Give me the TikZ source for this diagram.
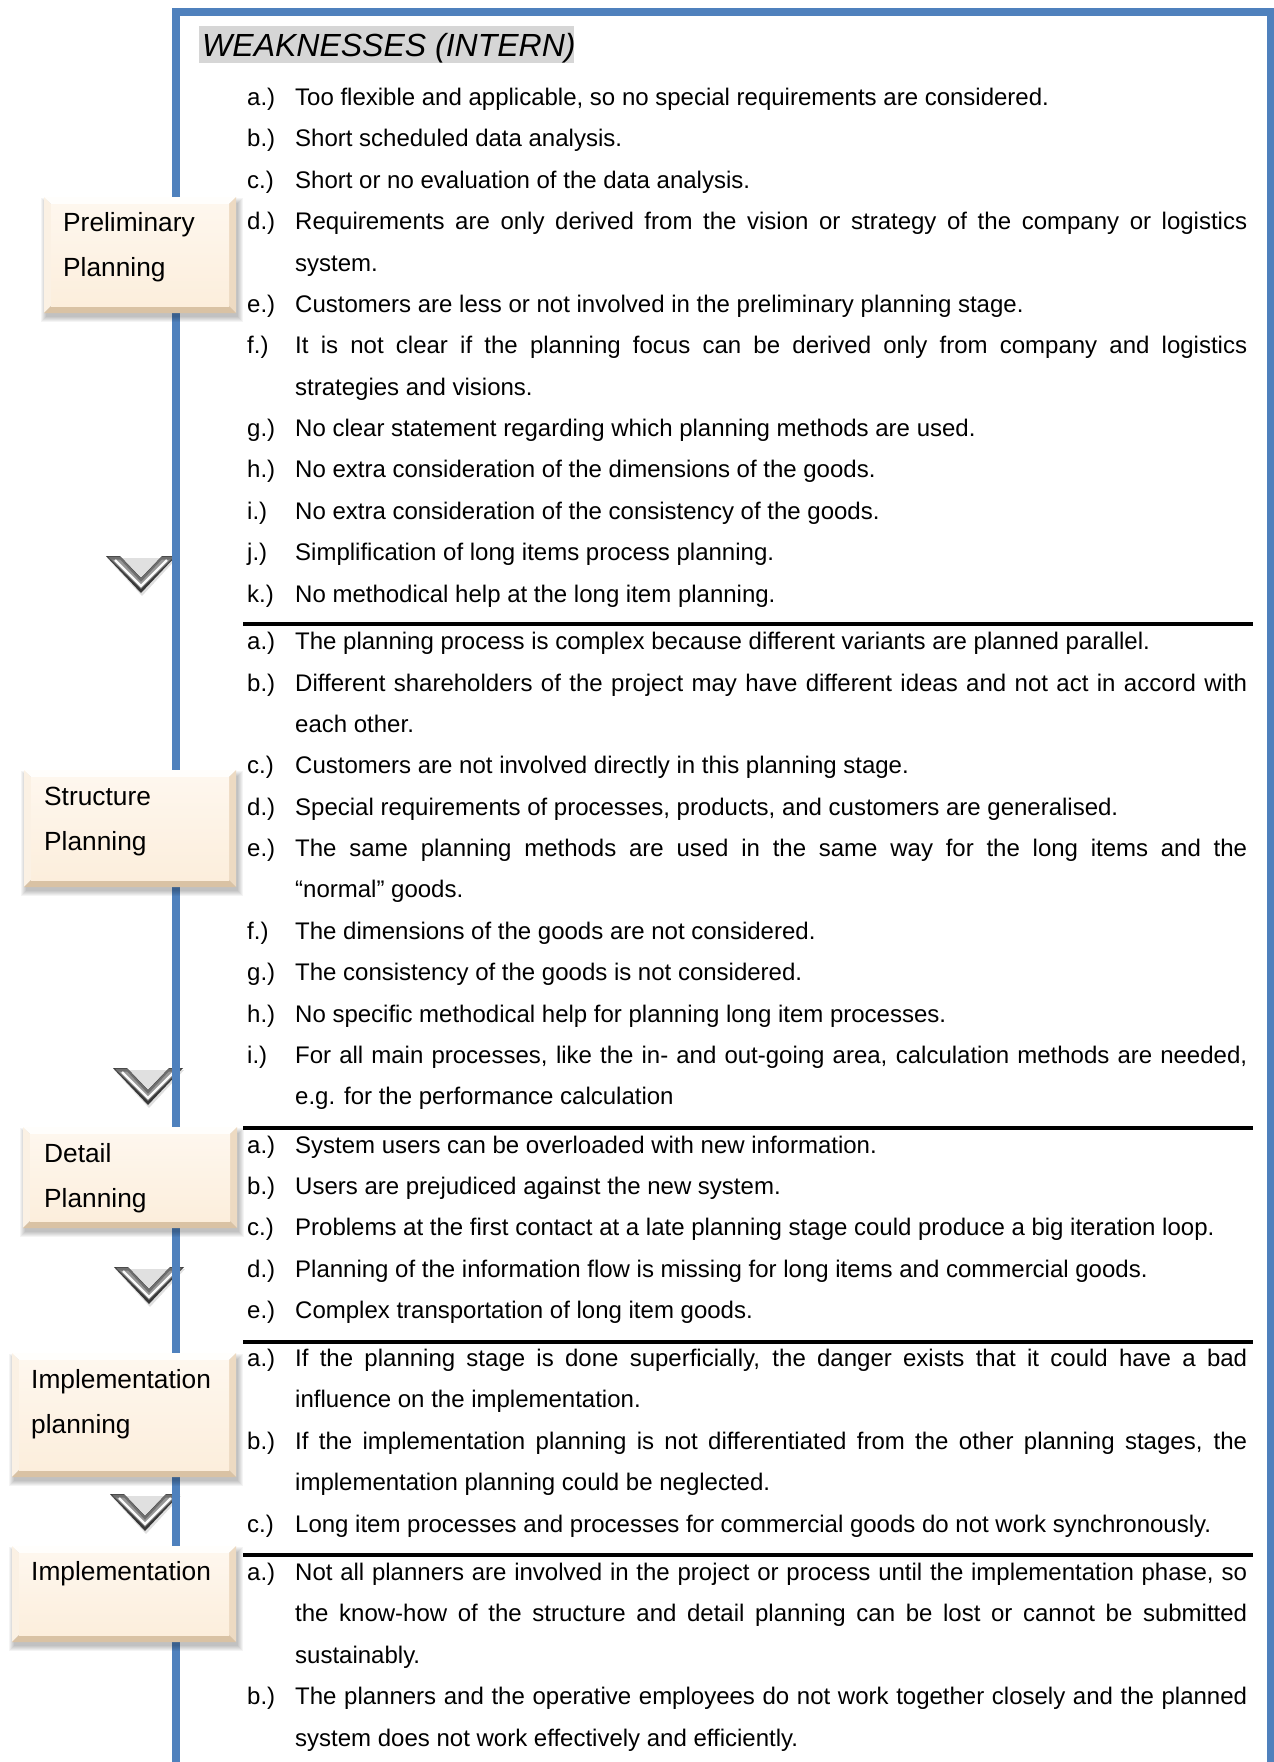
\documentclass[tikz,border=0pt]{standalone}
\usepackage{fontspec}
\setmainfont{Liberation Sans}
\usetikzlibrary{calc}

\definecolor{frameblue}{HTML}{4F81BD}
\definecolor{titlegray}{HTML}{D6D6D6}
\definecolor{creamtop}{HTML}{FEF7EE}
\definecolor{creambot}{HTML}{FCEEDC}
\definecolor{bevlight}{HTML}{FFFEFC}
\definecolor{bevleft}{HTML}{FBF1E4}
\definecolor{bevright}{HTML}{EDDAC2}
\definecolor{bevbottom}{HTML}{D9C2A4}
\definecolor{chevdark}{HTML}{383838}
\definecolor{chevband}{HTML}{6E6E6E}
\definecolor{chevmid}{HTML}{979797}

\newcommand{\bodyfont}{\fontsize{24}{28}\selectfont}
\newcommand{\stagefont}{\fontsize{26.3}{30}\selectfont}
\newcommand{\titlefont}{\fontsize{32}{36}\selectfont\itshape}
% justified line spanning the full text column
\newcommand{\J}[1]{\makebox[952pt][s]{#1}}

\tikzset{
  frameline/.style={draw=frameblue, line width=7.5pt, line join=miter},
  sepline/.style={draw=black, line width=4pt},
  lbl/.style={anchor=base west, inner sep=0pt, font=\bodyfont},
  txt/.style={anchor=base west, inner sep=0pt, font=\bodyfont},
  stagetxt/.style={anchor=base west, inner sep=0pt, font=\stagefont},
  titletxt/.style={anchor=base west, inner sep=0pt, font=\titlefont},
  chevhi/.style={draw=white, line width=2.2pt, opacity=0.95, line join=miter},
}

% item line with label / continuation line
\newcommand{\itm}[4]{%
  \node[lbl] (#1l) at (247,#2) {#3};
  \node[txt] (#1) at (295,#2) {#4};}
\newcommand{\cont}[3]{%
  \node[txt] (#1) at (295,#2) {#3};}

% bevelled stage box with soft shadow: x1 y1 x2 y2
\newcommand{\bevelbox}[4]{%
  \foreach \i in {0,...,5}{%
    \fill[black,opacity=0.045] ({#1+2-\i},{#2+6-\i}) rectangle ({#3+2+\i},{#4+4+\i});}
  \fill[bevlight] (#1,#2) -- (#3,#2) -- ({#3-7},{#2+7}) -- ({#1+7},{#2+7}) -- cycle;
  \fill[bevleft] (#1,#2) -- ({#1+7},{#2+7}) -- ({#1+7},{#4-7}) -- (#1,#4) -- cycle;
  \fill[bevright] (#3,#2) -- (#3,#4) -- ({#3-7},{#4-7}) -- ({#3-7},{#2+7}) -- cycle;
  \fill[bevbottom] (#1,#4) -- (#3,#4) -- ({#3-7},{#4-7}) -- ({#1+7},{#4-7}) -- cycle;
  \fill[top color=creamtop,bottom color=creambot] ({#1+7},{#2+7}) rectangle ({#3-7},{#4-7});}

% metallic downward chevron, top-left corner given
\newcommand{\downchev}[2]{%
  \begin{scope}[shift={(#1,#2)}]
    \fill[black,opacity=0.12] (1,2) -- (71,2) -- (36,40) -- cycle;
    \fill[chevdark] (0,0) -- (14,0) -- (35,22) -- (56,0) -- (70,0) -- (35,37) -- cycle;
    \fill[chevband] (2,0.5) -- (14,0.5) -- (35,22.5) -- (56,0.5) -- (68,0.5) -- (66,3) -- (35,33) -- (4,3) -- cycle;
    \fill[chevmid] (6,3.5) -- (14,3.5) -- (35,26) -- (56,3.5) -- (64,3.5) -- (35,32) -- cycle;
    \draw[chevhi] (9,4) -- (35,30) -- (61,4);
  \end{scope}}

\begin{document}
\begin{tikzpicture}[x=1pt,y=-1pt]
\useasboundingbox (0,0) rectangle (1274,1762);
\fill[white] (0,0) rectangle (1274,1762);

% chevrons between stages (the time line passes over their tips)
\downchev{106}{556}
\downchev{113}{1068}
\downchev{114}{1267}
\downchev{110}{1494}

% open frame: left, top and right sides
\coordinate (fbl) at (176,1762);
\coordinate (ftl) at (176,12);
\coordinate (ftr) at (1270.5,12);
\coordinate (fbr) at (1270.5,1762);
\draw[frameline] (fbl) -- (ftl) -- (ftr) -- (fbr);

% title
\fill[titlegray] (199,26) rectangle (574,63);
\node[titletxt] (title) at (202,56) {WEAKNESSES (INTERN)};

% stage boxes on the time line
\bevelbox{44}{197}{236}{313}
\node[stagetxt] (prelimA) at (63,231) {Preliminary};
\node[stagetxt] (prelimB) at (63,276) {Planning};

\bevelbox{24}{770}{236}{887}
\node[stagetxt] (structA) at (44,805) {Structure};
\node[stagetxt] (structB) at (44,850) {Planning};

\bevelbox{23}{1127}{237}{1228}
\node[stagetxt] (detailA) at (44,1162) {Detail};
\node[stagetxt] (detailB) at (44,1207) {Planning};

\bevelbox{12}{1353}{236}{1477}
\node[stagetxt] (implplanA) at (31,1388) {Implementation};
\node[stagetxt] (implplanB) at (31,1433) {planning};

\bevelbox{12}{1546}{236}{1642}
\node[stagetxt] (implA) at (31,1580) {Implementation};

% section separators
\coordinate (sepAw) at (243,624);    \coordinate (sepAe) at (1253,624);
\coordinate (sepBw) at (243,1128);   \coordinate (sepBe) at (1253,1128);
\coordinate (sepCw) at (243,1342);   \coordinate (sepCe) at (1253,1342);
\coordinate (sepDw) at (243,1555);   \coordinate (sepDe) at (1253,1555);
\draw[sepline] (sepAw) -- (sepAe);
\draw[sepline] (sepBw) -- (sepBe);
\draw[sepline] (sepCw) -- (sepCe);
\draw[sepline] (sepDw) -- (sepDe);

% preliminary planning
\itm{pa}{105.5}{a.)}{Too flexible and applicable, so no special requirements are considered.}
\itm{pb}{146.9}{b.)}{Short scheduled data analysis.}
\itm{pc}{188.3}{c.)}{Short or no evaluation of the data analysis.}
\itm{pd}{229.6}{d.)}{\J{Requirements are only derived from the vision or strategy of the company or logistics}}
\cont{pdd}{271.0}{system.}
\itm{pe}{312.4}{e.)}{Customers are less or not involved in the preliminary planning stage.}
\itm{pf}{353.8}{f.)}{\J{It is not clear if the planning focus can be derived only from company and logistics}}
\cont{pff}{395.2}{strategies and visions.}
\itm{pg}{436.5}{g.)}{No clear statement regarding which planning methods are used.}
\itm{ph}{477.9}{h.)}{No extra consideration of the dimensions of the goods.}
\itm{pi}{519.3}{i.)}{No extra consideration of the consistency of the goods.}
\itm{pj}{560.7}{j.)}{Simplification of long items process planning.}
\itm{pk}{602.1}{k.)}{No methodical help at the long item planning.}

% structure planning
\itm{sa}{649.6}{a.)}{The planning process is complex because different variants are planned parallel.}
\itm{sb}{691.0}{b.)}{\J{Different shareholders of the project may have different ideas and not act in accord with}}
\cont{sbb}{732.4}{each other.}
\itm{sc}{773.7}{c.)}{Customers are not involved directly in this planning stage.}
\itm{sd}{815.1}{d.)}{Special requirements of processes, products, and customers are generalised.}
\itm{se}{856.5}{e.)}{\J{The same planning methods are used in the same way for the long items and the}}
\cont{see}{897.9}{“normal” goods.}
\itm{sf}{939.3}{f.)}{The dimensions of the goods are not considered.}
\itm{sg}{980.6}{g.)}{The consistency of the goods is not considered.}
\itm{sh}{1022.0}{h.)}{No specific methodical help for planning long item processes.}
\itm{si}{1063.4}{i.)}{\J{For all main processes, like the in- and out-going area, calculation methods are needed,}}
\cont{sii}{1104.8}{e.g. for the performance calculation}

% detail planning
\itm{da}{1153.0}{a.)}{System users can be overloaded with new information.}
\itm{db}{1194.4}{b.)}{Users are prejudiced against the new system.}
\itm{dc}{1235.8}{c.)}{Problems at the first contact at a late planning stage could produce a big iteration loop.}
\itm{dd}{1277.1}{d.)}{Planning of the information flow is missing for long items and commercial goods.}
\itm{de}{1318.5}{e.)}{Complex transportation of long item goods.}

% implementation planning
\itm{ia}{1366.5}{a.)}{\J{If the planning stage is done superficially, the danger exists that it could have a bad}}
\cont{iaa}{1407.9}{influence on the implementation.}
\itm{ib}{1449.3}{b.)}{\J{If the implementation planning is not differentiated from the other planning stages, the}}
\cont{ibb}{1490.6}{implementation planning could be neglected.}
\itm{ic}{1532.0}{c.)}{Long item processes and processes for commercial goods do not work synchronously.}

% implementation
\itm{ma}{1580.5}{a.)}{\J{Not all planners are involved in the project or process until the implementation phase, so}}
\cont{maa}{1621.9}{\J{the know-how of the structure and detail planning can be lost or cannot be submitted}}
\cont{maaa}{1663.3}{sustainably.}
\itm{mb}{1704.6}{b.)}{\J{The planners and the operative employees do not work together closely and the planned}}
\cont{mbb}{1746.0}{system does not work effectively and efficiently.}

\end{tikzpicture}
\end{document}
